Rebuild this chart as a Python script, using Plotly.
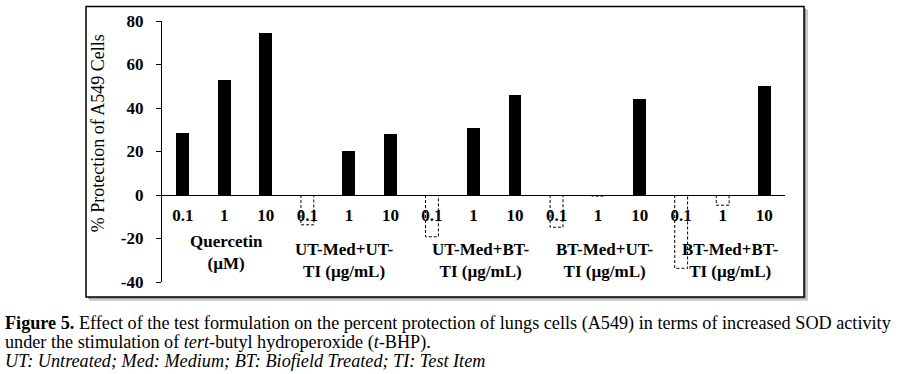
import plotly.graph_objects as go

# ---------------- data ----------------
dose_labels = ["0.1", "1", "10"] * 5
group_labels = [
    "Quercetin<br>(µM)",
    "UT-Med+UT-<br>TI (µg/mL)",
    "UT-Med+BT-<br>TI (µg/mL)",
    "BT-Med+UT-<br>TI (µg/mL)",
    "BT-Med+BT-<br>TI (µg/mL)",
]
quercetin = [28.3, 53.0, 74.5]
ut_med_ut_ti = [-13.7, 20.1, 27.9]
ut_med_bt_ti = [-19.2, 30.6, 46.2]
bt_med_ut_ti = [-14.8, -0.5, 44.3]
bt_med_bt_ti = [-33.7, -4.7, 50.3]
y_tick_values = [-40, -20, 0, 20, 40, 60, 80]
y_tick_text = ["-40", "-20", "0", "20", "40", "60", "80"]
y_title = "% Protection of A549 Cells"

values = quercetin + ut_med_ut_ti + ut_med_bt_ti + bt_med_ut_ti + bt_med_bt_ti
xpos = list(range(len(values)))

# ---------------- layout geometry (pixels) ----------------
W, H = 899, 374
L, R, T, B = 162, 785, 19, 282  # plot area in pixels
BAR_W = 0.31
SERIF = "Liberation Serif, Times New Roman, serif"


def px_x(x):
    return (x - L) / (R - L)


def px_y(y):
    return (B - y) / (B - T)


fig = go.Figure()

pos_x = [x for x, v in zip(xpos, values) if v >= 0]
pos_y = [v for v in values if v >= 0]
fig.add_trace(go.Bar(x=pos_x, y=pos_y, width=BAR_W,
                     marker=dict(color="black", line=dict(width=0)),
                     showlegend=False, hoverinfo="y"))

for x, v in zip(xpos, values):
    if v < 0:
        h = BAR_W / 2
        fig.add_trace(go.Scatter(
            x=[x - h, x - h, x + h, x + h], y=[0, v, v, 0],
            mode="lines", line=dict(color="black", width=1, dash="3px,2px"),
            showlegend=False, hoverinfo="skip"))

# group labels
y_mid0 = (0 - (-40)) / 120.0
group_centers = [1, 4, 7, 10, 13]
group_y_px = [252, 260, 260, 260, 260]
group_xshift = [2, -4, 7, 7, 8]
for gx, lab, gy, xs in zip(group_centers, group_labels, group_y_px, group_xshift):
    fig.add_annotation(x=gx, xref="x", y=px_y(gy), yref="paper", text=f"<b>{lab}</b>",
                       showarrow=False, xanchor="center", yanchor="middle", xshift=xs,
                       font=dict(family=SERIF, size=17, color="black"), align="center")

# y-axis title
fig.add_annotation(x=px_x(98), y=px_y(132), xref="paper", yref="paper", text=y_title,
                   textangle=-90, showarrow=False, xanchor="center", yanchor="middle",
                   font=dict(family=SERIF, size=18, color="black"))

# caption
caption_lines = [
    "<b>Figure 5.</b> Effect of the test formulation on the percent protection of lungs cells (A549) in terms of increased SOD activity",
    "under the stimulation of <i>tert</i>-butyl hydroperoxide (<i>t</i>-BHP).",
    "<i>UT: Untreated; Med: Medium; BT: Biofield Treated; TI: Test Item</i>",
]
for line, cy in zip(caption_lines, [324, 343, 362]):
    fig.add_annotation(x=px_x(3), y=px_y(cy), xref="paper", yref="paper", text=line,
                       showarrow=False, xanchor="left", yanchor="middle",
                       font=dict(family=SERIF, size=18.2, color="black"))

# outer box with shadow
box = dict(x0=px_x(86), x1=px_x(804), y0=px_y(297), y1=px_y(4.5))
fig.add_shape(type="rect", xref="paper", yref="paper",
              x0=box["x0"] + 3 / (R - L), x1=box["x1"] + 4 / (R - L),
              y0=box["y0"] - 4 / (B - T), y1=box["y1"] - 3 / (B - T),
              fillcolor="#c8c8c8", line=dict(width=0), layer="below")
fig.add_shape(type="rect", xref="paper", yref="paper",
              x0=box["x0"] + 2 / (R - L), x1=box["x1"] + 2 / (R - L),
              y0=box["y0"] - 2 / (B - T), y1=box["y1"] - 2 / (B - T),
              fillcolor="#9a9a9a", line=dict(width=0), layer="below")
fig.add_shape(type="rect", xref="paper", yref="paper", **box,
              fillcolor="white", line=dict(color="black", width=1.5), layer="below")

fig.update_layout(
    width=W, height=H,
    margin=dict(l=L, r=W - R, t=T, b=H - B, pad=0),
    paper_bgcolor="white", plot_bgcolor="rgba(0,0,0,0)",
    bargap=0, showlegend=False,
    xaxis=dict(range=[-0.5, 14.5], tickmode="array", tickvals=xpos, ticktext=dose_labels,
               anchor="free", position=y_mid0, showline=True, linecolor="black", linewidth=1.3,
               ticks="", showgrid=False, zeroline=False, ticklabelstandoff=4,
               tickfont=dict(family=SERIF, size=17, color="black", weight="bold")),
    yaxis=dict(range=[-40, 80], tickmode="array", tickvals=y_tick_values, ticktext=y_tick_text,
               showline=True, linecolor="black", linewidth=1.3, ticks="outside", ticklen=5,
               tickcolor="black", tickwidth=1, showgrid=False, zeroline=False,
               ticklabelstandoff=9,
               tickfont=dict(family=SERIF, size=17, color="black", weight="bold")),
)

fig.write_html("out.html", config={"displayModeBar": False},
               post_script="document.body.style.margin='0px';document.body.style.overflow='hidden';")
